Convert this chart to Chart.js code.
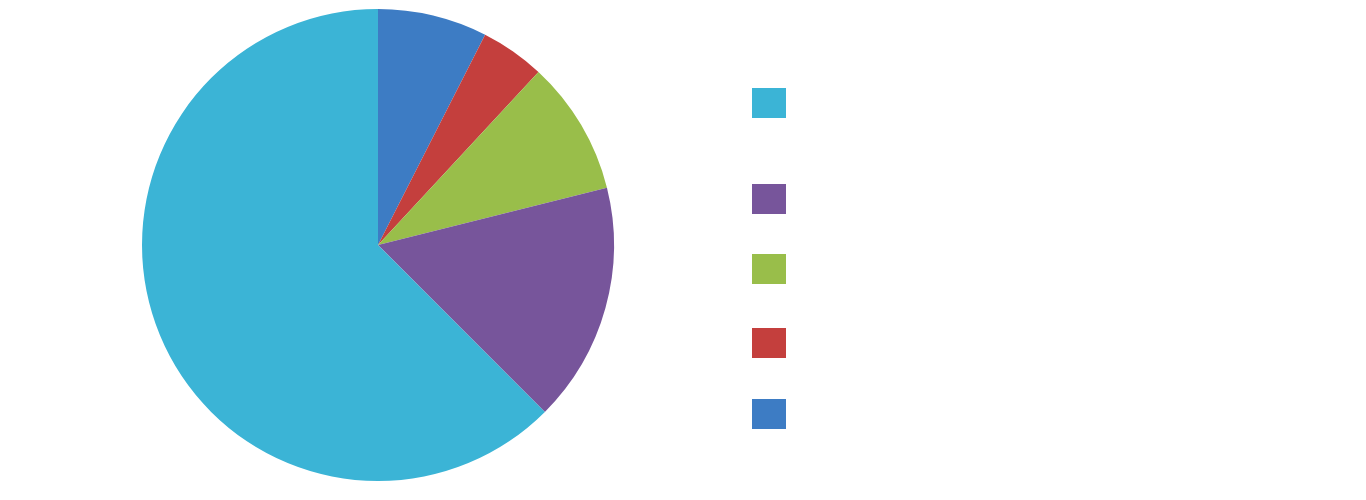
<!DOCTYPE html>
<html>
<head>
<meta charset="utf-8">
<script src="https://cdn.jsdelivr.net/npm/chart.js@4/dist/chart.umd.min.js"></script>
<style>
html,body{margin:0;padding:0;background:#fff;}
#wrap{position:relative;width:1366px;height:500px;}
</style>
</head>
<body>
<div id="wrap"><canvas id="c" width="1366" height="500"></canvas></div>
<script>
const categories = ["A", "B", "C", "D", "E"];
const values = [7.5, 4.4, 9.2, 16.4, 62.5];
const colors = ["#3D7CC4", "#C43F3D", "#99BE4A", "#77559B", "#3BB4D6"];
const legendOrder = [4, 3, 2, 1, 0];

const legendTops = [88, 184, 254, 328, 399];

const customLegend = {
  id: 'customLegend',
  afterDraw(chart) {
    const ctx = chart.ctx;
    ctx.save();
    legendOrder.forEach((idx, i) => {
      ctx.fillStyle = colors[idx];
      ctx.fillRect(752, legendTops[i], 34, 30);
      ctx.fillStyle = '#ffffff';
      ctx.font = '14px "Liberation Sans"';
      ctx.textBaseline = 'middle';
      ctx.fillText(categories[idx], 800, legendTops[i] + 15);
    });
    ctx.restore();
  }
};

new Chart(document.getElementById('c'), {
  type: 'pie',
  data: {
    labels: categories,
    datasets: [{
      data: values,
      backgroundColor: colors,
      borderWidth: 0
    }]
  },
  options: {
    responsive: false,
    animation: false,
    layout: { padding: { left: 142, right: 752, top: 9, bottom: 19 } },
    plugins: { legend: { display: false }, tooltip: { enabled: false } }
  },
  plugins: [customLegend]
});
</script>
</body>
</html>
